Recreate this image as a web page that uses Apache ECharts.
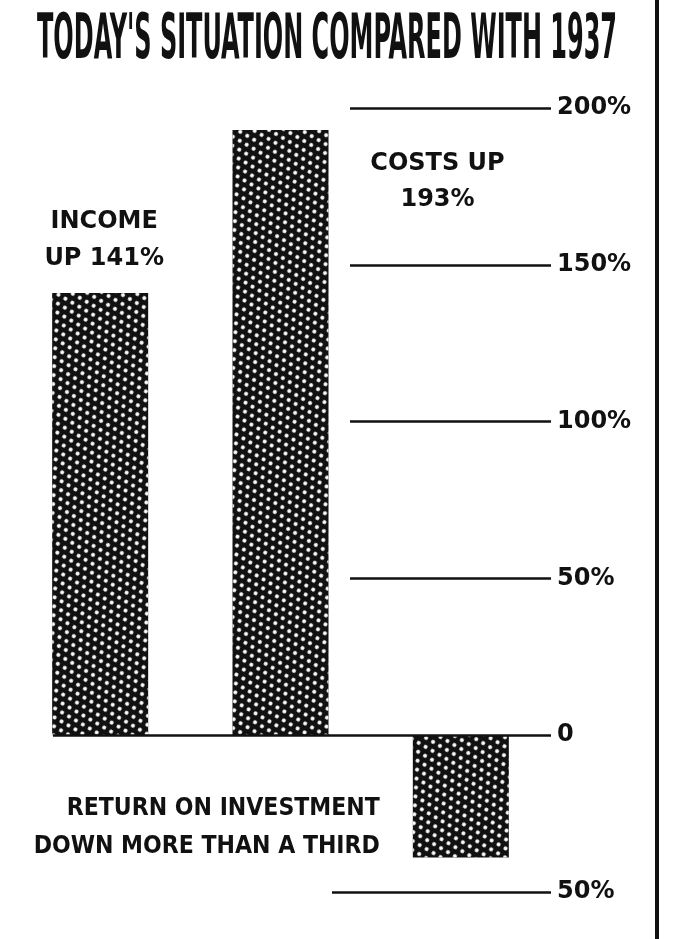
<!DOCTYPE html>
<html>
<head>
<meta charset="utf-8">
<title>Today's situation compared with 1937</title>
<script src="https://cdn.jsdelivr.net/npm/echarts@6/dist/echarts.min.js"></script>
<style>
  html, body { margin: 0; padding: 0; background: #fff; }
  #chart { width: 686px; height: 939px; }
</style>
</head>
<body>
<div id="chart"></div>
<script>
  var categories = ['Income', 'Costs', 'Return on investment'];
  var changePct = [141, 193, -39];
  var barNotes = ['INCOME\nUP 141%', 'COSTS UP\n193%', 'RETURN ON INVESTMENT\nDOWN MORE THAN A THIRD'];
  var tickValues = [200, 150, 100, 50, 0, -50];
  var tickLabels = ['200%', '150%', '100%', '50%', '0', '50%'];
  var titleText = "TODAY'S SITUATION COMPARED WITH 1937";

  var ink = '#111';
  var boldSans = '"DejaVu Sans", sans-serif';
  var narrow = '"Liberation Sans Narrow", "DejaVu Sans Condensed", sans-serif';

  // the headline is very condensed, squeeze it to the printed width
  var ctx = document.createElement('canvas').getContext('2d');
  ctx.font = 'bold 62px ' + narrow;
  var titleScale = 580 / ctx.measureText(titleText).width;

  // where each note sits around its bar
  var noteLabels = [
    { position: 'top', distance: 16, offset: [4, 0], lineHeight: 37, fontFamily: boldSans, fontSize: 24 },
    { position: [205, 16], align: 'center', lineHeight: 36, fontFamily: boldSans, fontSize: 24 },
    { position: 'left', distance: 33, offset: [0, 31], lineHeight: 38, fontFamily: narrow, fontSize: 24.5 }
  ];

  var barData = changePct.map(function (v, i) {
    var lab = Object.assign({ show: true, formatter: barNotes[i], color: ink, fontWeight: 'bold' }, noteLabels[i]);
    return { value: v, label: lab };
  });

  // guide lines: short stubs left of the scale, the zero line runs under all bars
  var guideLines = tickValues.map(function (v) {
    var from = v === 0 ? 53 : (v < 0 ? 332 : 350);
    return [{ x: from, yAxis: v }, { x: 551, yAxis: v }];
  });

  var chart = echarts.init(document.getElementById('chart'));
  var option = {
    animation: false,
    backgroundColor: '#fff',
    aria: { enabled: true, decal: { show: true } },
    grid: { left: 10, right: 135, top: 108, bottom: 47 },
    xAxis: {
      type: 'category',
      data: categories,
      show: false
    },
    yAxis: {
      type: 'value',
      position: 'right',
      min: -50,
      max: 200,
      interval: 50,
      axisLine: { show: false },
      axisTick: { show: false },
      splitLine: { show: false },
      axisLabel: {
        margin: 6,
        color: ink,
        fontFamily: boldSans,
        fontWeight: 'bold',
        fontSize: 24,
        formatter: function (val) {
          var k = tickValues.indexOf(val);
          return k >= 0 ? tickLabels[k] : '';
        }
      }
    },
    graphic: [
      {
        type: 'text',
        x: 327,
        y: 42,
        scaleX: titleScale,
        style: {
          text: titleText,
          font: 'bold 62px ' + narrow,
          fill: ink,
          align: 'center',
          verticalAlign: 'middle'
        }
      },
      {
        // column rule at the right edge of the clipping
        type: 'rect',
        shape: { x: 655, y: 0, width: 4, height: 939 },
        style: { fill: ink }
      }
    ],
    series: [
      {
        type: 'bar',
        data: barData,
        barWidth: 96,
        silent: true,
        itemStyle: {
          color: ink,
          // coarse halftone screen: staggered white dots
          decal: {
            symbol: 'circle',
            symbolSize: 1,
            color: '#fff',
            dashArrayX: [[4, 4], [0, 4, 4, 0]],
            dashArrayY: [3.35, 3.35]
          }
        },
        markLine: {
          silent: true,
          symbol: ['none', 'none'],
          label: { show: false },
          lineStyle: { color: ink, width: 2.5, type: 'solid' },
          data: guideLines
        }
      }
    ]
  };
  chart.setOption(option);
</script>
</body>
</html>
